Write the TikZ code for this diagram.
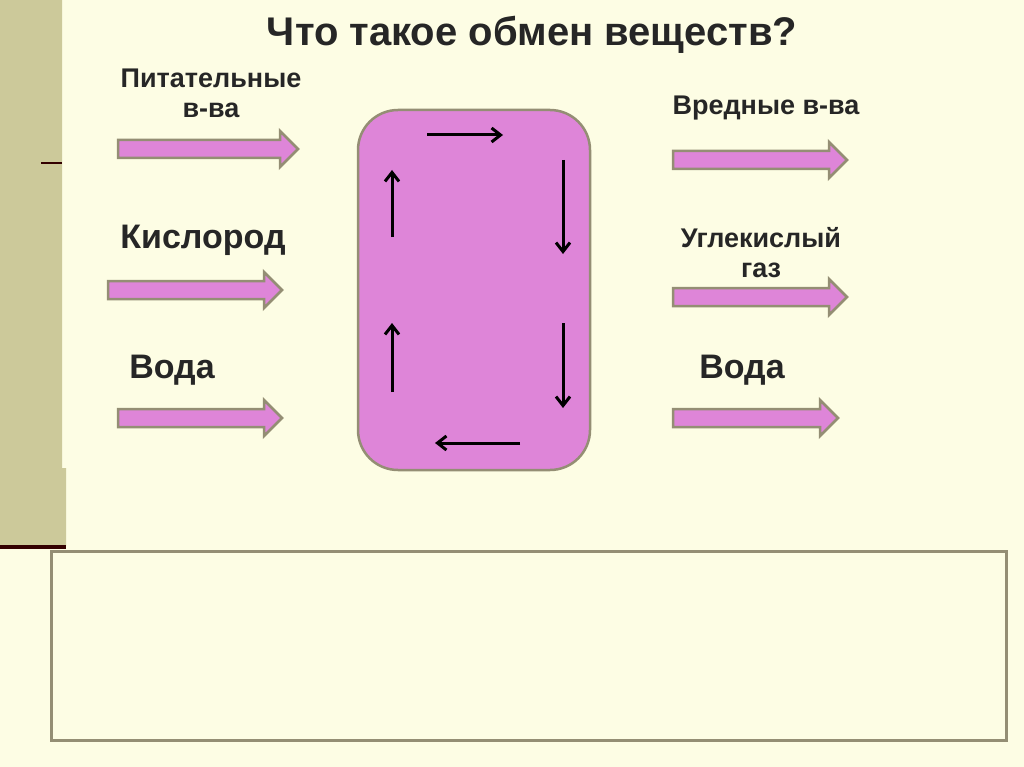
\documentclass[tikz,border=0pt]{standalone}
\usepackage{fontspec}
\setmainfont{Liberation Sans}
\usetikzlibrary{arrows.meta}
\begin{document}
\begin{tikzpicture}[x=1pt,y=-1pt,
  lbl/.style={font=\bfseries\fontsize{27}{30}\selectfont,align=center,text=black!85},
  big/.style={font=\bfseries\fontsize{34}{38}\selectfont,text=black!85},
  inar/.style={-{Straight Barb[length=9pt,width=14pt,line width=3pt]},line width=3pt}]
\definecolor{bg}{HTML}{FDFDE4}
\definecolor{khaki}{HTML}{CCC99A}
\definecolor{pinkf}{HTML}{DE85D8}
\definecolor{edge}{HTML}{948E74}
\fill[bg] (0,0) rectangle (1024,767);
\useasboundingbox (0,0) rectangle (1024,767);
\fill[khaki] (0,0) -- (62,0) -- (62,468) -- (66,468) -- (66,546) -- (0,546) -- cycle;
\fill[black!80!red] (0,545) rectangle (66,549);
\draw[black!80!red,line width=1.2pt] (41,163) -- (62,163);
\draw[edge,line width=3pt] (51,551) rectangle (1006,740);
\newcommand{\barrow}[3]{\draw[edge,line width=2.5pt,fill=pinkf] (#1,#3-9) -- (#2-18,#3-9) -- (#2-18,#3-18) -- (#2,#3) -- (#2-18,#3+18) -- (#2-18,#3+9) -- (#1,#3+9) -- cycle;}
\barrow{118}{298}{149}
\barrow{108}{282}{290}
\barrow{118}{282}{418}
\barrow{673}{847}{160}
\barrow{673}{847}{297}
\barrow{673}{838}{418}
\draw[edge,line width=2.5pt,fill=pinkf,rounded corners=40pt] (358,110) rectangle (590,470);
\coordinate (t1) at (427,135); \coordinate (t2) at (503,135);
\coordinate (r1) at (563,160); \coordinate (r2) at (563,254);
\coordinate (r3) at (563,323); \coordinate (r4) at (563,408);
\coordinate (b1) at (520,443); \coordinate (b2) at (435,443);
\coordinate (l1) at (392,237); \coordinate (l2) at (392,170);
\coordinate (l3) at (392,392); \coordinate (l4) at (392,323);
\draw[inar] (t1) -- (t2);
\draw[inar] (r1) -- (r2);
\draw[inar] (r3) -- (r4);
\draw[inar] (b1) -- (b2);
\draw[inar] (l1) -- (l2);
\draw[inar] (l3) -- (l4);
\node[font=\bfseries\fontsize{40}{44}\selectfont,text=black!85] (title) at (532,35) {Что такое обмен веществ?};
\node[lbl] (n1) at (211,93) {Питательные\\в-ва};
\node[big] (n2) at (203,240) {Кислород};
\node[big] (n3) at (172,370) {Вода};
\node[lbl] (n4) at (766,108) {Вредные в-ва};
\node[lbl] (n5) at (761,253) {Углекислый\\газ};
\node[big] (n6) at (742,370) {Вода};
\end{tikzpicture}
\end{document}
